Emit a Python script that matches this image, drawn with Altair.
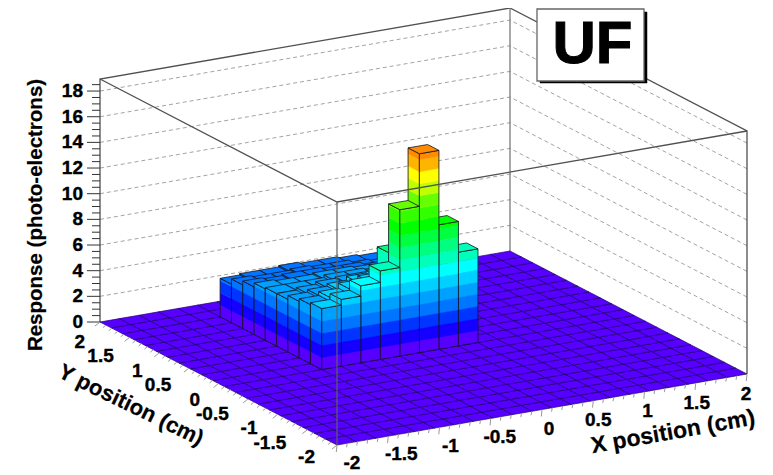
import altair as alt

# ---- values ----
N_BINS = 21
Z_MAX = 18.94
BAND = 0.94
PALETTE = ["#5800ff", "#1500ff", "#0035ff", "#0075ff", "#00a0ff", "#00d0ff", "#00ffff",
           "#00ffbb", "#00ff80", "#00ff40", "#00ff00", "#33ff00", "#66ff00", "#c0ff00",
           "#ffff00", "#ffb400", "#ff8c00", "#ff4c00", "#ff1900", "#ff0000"]
FIRST_I = 5   # first filled x bin
FIRST_J = 10  # first filled y bin
# rows: y bins from front to back, columns: x bins from left to right
row0 = [4.75, 5.2, 6.0, 6.9, 11.4, 15.5, 9.7, 7.3]
row1 = [4.6, 4.9, 5.3, 5.6, 7.6, 7.0, 5.5, 4.5]
row2 = [4.4, 4.6, 4.8, 5.1, 5.3, 5.2, 4.5, 4.0]
row3 = [4.1, 4.3, 4.5, 4.6, 4.6, 4.5, 4.2, 3.8]
row4 = [4.1, 4.1, 4.1, 4.3, 4.3, 4.2, 3.9, 3.6]
row5 = [4.0, 3.9, 3.9, 4.0, 4.0, 3.9, 3.7, 3.4]
row6 = [3.7, 3.6, 3.7, 3.7, 3.6, 3.6, 3.4, 3.2]
row7 = [3.4, 3.3, 3.3, 3.4, 3.3, 3.3, 3.1, 3.0]
row8 = [3.0, 3.1, 3.1, 3.2, 3.1, 3.1, 3.0, 2.9]
heights = [row0, row1, row2, row3, row4, row5, row6, row7, row8]
z_ticks = [0, 2, 4, 6, 8, 10, 12, 14, 16, 18]
xy_ticks = [-2, -1.5, -1, -0.5, 0, 0.5, 1, 1.5, 2]

# ---- oblique view of the box (page pixels minus the 8px margin) ----
OX, OY = 329, 437
AX, AY = 410, -71
BX, BY = -237, -123
ZS = 12.83


def proj(u, v, z=0.0):
    return [OX + AX * u + BX * v, OY + AY * u + BY * v - ZS * z]


def bin_pt(i, j, z=0.0):
    return proj(i / N_BINS, j / N_BINS, z)


def poly(pts, fill, stroke, sw):
    ring = [list(p) for p in pts] + [list(pts[0])]
    return {"type": "Feature", "geometry": {"type": "Polygon", "coordinates": [ring]},
            "properties": {"fill": fill, "stroke": stroke, "sw": sw}}


def line(pts, stroke="#444444", sw=1.0):
    return {"type": "Feature", "geometry": {"type": "LineString", "coordinates": [list(p) for p in pts]},
            "properties": {"stroke": stroke, "sw": sw}}


EDGE = "#14141e"
solids = []
# floor
for i in range(N_BINS):
    for j in range(N_BINS):
        solids.append(poly([bin_pt(i, j), bin_pt(i + 1, j), bin_pt(i + 1, j + 1), bin_pt(i, j + 1)],
                           PALETTE[0], "#1c0070", 0.7))


def face(p, q, h):
    k = 0
    while k * BAND < h:
        z0, z1 = k * BAND, min((k + 1) * BAND, h)
        col = PALETTE[k]
        solids.append(poly([bin_pt(*p, z0), bin_pt(*q, z0), bin_pt(*q, z1), bin_pt(*p, z1)], col, col, 0.4))
        k += 1
    solids.append(poly([bin_pt(*p), bin_pt(*q), bin_pt(*q, h), bin_pt(*p, h)], "transparent", EDGE, 0.8))


for jr in range(len(heights) - 1, -1, -1):
    for ir in range(len(heights[jr]) - 1, -1, -1):
        h = heights[jr][ir]
        i, j = FIRST_I + ir, FIRST_J + jr
        face((i, j), (i, j + 1), h)
        face((i, j), (i + 1, j), h)
        top = PALETTE[int(h / BAND)]
        solids.append(poly([bin_pt(i, j, h), bin_pt(i + 1, j, h), bin_pt(i + 1, j + 1, h), bin_pt(i, j + 1, h)],
                           top, EDGE, 0.8))

# walls
grid = []
for z in z_ticks[1:]:
    grid.append(line([proj(0, 1, z), proj(1, 1, z), proj(1, 0, z)], "#999999", 0.9))

back = [line([proj(0, 1, 0), proj(0, 1, Z_MAX), proj(1, 1, Z_MAX), proj(1, 0, Z_MAX), proj(1, 0, 0)], "#505050", 1.3),
        line([proj(1, 1, 0), proj(1, 1, Z_MAX)], "#707070", 1.2)]
front = [line([proj(0, 1, Z_MAX), proj(0, 0, Z_MAX), proj(1, 0, Z_MAX)], "#505050", 1.3),
         line([proj(0, 0, 0), proj(0, 0, Z_MAX)], "#606060", 1.2)]

# ticks
for n in range(0, 38):
    z = n * 0.5
    x0, y0 = proj(0, 1, z)
    front.append(line([[x0, y0], [x0 - (13 if n % 4 == 0 else 8), y0]], "#333333", 1.0))
for n in range(0, 41):
    major = n % 5 == 0
    x0, y0 = proj(0, n / 40)
    front.append(line([[x0, y0], [x0 - (5 if major else 3), y0 + (4 if major else 2.5)]], "#999999", 1.0))
    x0, y0 = proj(n / 40, 0)
    front.append(line([[x0, y0], [x0 - 0.7, y0 + (7 if major else 4)]], "#999999", 1.0))

# "UF" label box
BOX = (529, 1, 636, 73)
box = [poly([[BOX[0] + 3, BOX[1] + 3], [BOX[2] + 3, BOX[1] + 3], [BOX[2] + 3, BOX[3] + 2], [BOX[0] + 3, BOX[3] + 2]],
            "#000000", "#000000", 0.5),
       poly([[BOX[0], BOX[1]], [BOX[2], BOX[1]], [BOX[2], BOX[3]], [BOX[0], BOX[3]]], "#ffffff", "#666666", 1.3)]

# labels
z_labels = []
for z in z_ticks:
    x0, y0 = proj(0, 1, z)
    z_labels.append({"lon": x0 - 17, "lat": y0, "t": str(z)})
y_labels = []
for n, val in enumerate(xy_ticks):
    # val runs -2..2 from the front corner to the left corner
    v = (val + 2) / 4
    x0, y0 = proj(0, v)
    y_labels.append({"lon": x0 - 22 + 7 * v, "lat": y0 + 12 + 8 * v, "t": f"{val:g}"})
x_labels = []
for val in xy_ticks:
    u = (val + 2) / 4
    x0, y0 = proj(u, 0)
    x_labels.append({"lon": x0 + 15 - 16 * u, "lat": y0 + 18 + 2 * u, "t": f"{val:g}"})

PROJ = dict(type="identity", scale=1, translate=[0, 0])
FONT = "Liberation Sans"


def geo(feats, **mark):
    return alt.Chart(alt.Data(values=feats)).mark_geoshape(**mark).project(**PROJ)


def lines(feats, **mark):
    return geo(feats, filled=False, **mark).encode(
        stroke=alt.Stroke("properties.stroke:N", scale=None),
        strokeWidth=alt.StrokeWidth("properties.sw:Q", scale=None),
    )


def filled(feats):
    return geo(feats).encode(
        fill=alt.Fill("properties.fill:N", scale=None),
        stroke=alt.Stroke("properties.stroke:N", scale=None),
        strokeWidth=alt.StrokeWidth("properties.sw:Q", scale=None),
    )


def texts(rows, size=19, bold=0.4, **mark):
    return alt.Chart(alt.Data(values=rows)).mark_text(
        font=FONT, fontWeight="bold", fontSize=size, color="#000000", stroke="#000000", strokeWidth=bold,
        baseline="middle", **mark
    ).encode(longitude="lon:Q", latitude="lat:Q", text="t:N").project(**PROJ)


chart = alt.layer(
    lines(grid, strokeDash=[4, 3]),
    lines(back),
    filled(solids),
    lines(front),
    filled(box),
    texts(z_labels, align="right"),
    texts(y_labels, align="right"),
    texts(x_labels, align="center"),
    texts([{"lon": 28, "lat": 207, "t": "Response (photo-electrons)"}], size=20.5, bold=0.2, align="center", angle=270),
    texts([{"lon": 123, "lat": 397, "t": "Y position (cm)"}], size=22, bold=0.2, align="center", angle=26),
    texts([{"lon": 665, "lat": 424, "t": "X position (cm)"}], size=23, bold=0.2, align="center", angle=350),
    texts([{"lon": 584.5, "lat": 37, "t": "UF"}], size=60, bold=1.0, align="center"),
).properties(
    width=757, height=465, padding=0, autosize=alt.AutoSizeParams(type="none"),
    background="white"
).configure_view(stroke=None)

chart.save("out.html", embed_options={"renderer": "svg", "actions": False})
